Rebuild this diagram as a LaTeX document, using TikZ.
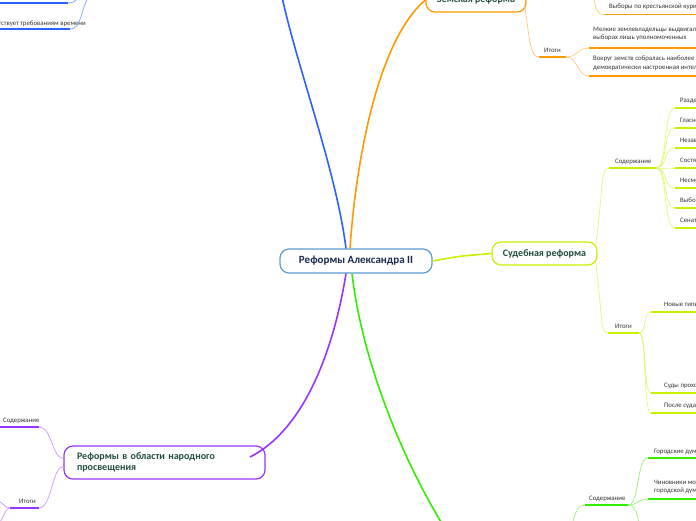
\documentclass[tikz,border=0pt]{standalone}
\usepackage{fontspec}
\setmainfont{Carlito}
\definecolor{rootblue}{HTML}{5B9BD5}
\definecolor{navytxt}{HTML}{1B2A4E}
\definecolor{topictxt}{HTML}{1F4E3D}
\definecolor{labeltxt}{HTML}{333333}
\definecolor{brblue}{HTML}{2962FF}
\definecolor{brorange}{HTML}{FF9A00}
\definecolor{lorange}{HTML}{FFCB7A}
\definecolor{brlime}{HTML}{CCEE00}
\definecolor{llime}{HTML}{E2F77A}
\definecolor{brgreen}{HTML}{33EE00}
\definecolor{lgreen}{HTML}{9CF07A}
\definecolor{brpurple}{HTML}{9933FF}
\definecolor{lpurple}{HTML}{CC99FF}
\begin{document}
\begin{tikzpicture}[x=1pt,y=-1pt,
  topic/.style={draw,fill=white,rounded corners=9pt,line width=1.2pt,inner sep=0pt,
    font=\bfseries\fontsize{10}{12}\selectfont,text=topictxt},
  lbl/.style={anchor=base west,inner sep=0pt,font=\fontsize{6.8}{8.4}\selectfont,text=labeltxt},
  mainline/.style={line width=1.6pt},
  subline/.style={line width=0.7pt},
  uline/.style={line width=1.8pt}]
\clip (0,0) rectangle (696,520);

% центральная тема
\node[topic,draw=rootblue,text=navytxt,minimum width=152pt,minimum height=24pt,
  font=\bfseries\fontsize{11}{13}\selectfont] (root) at (356,261) {Реформы Александра II};

% главные темы
\node[topic,draw=brorange,minimum width=100pt,minimum height=24pt] (zem) at (476,0) {Земская реформа};
\node[topic,draw=brlime,minimum width=105pt,minimum height=23pt] (sud) at (544.5,253.5) {Судебная реформа};
\node[topic,draw=brpurple,text width=175pt,inner xsep=13pt,inner ysep=5pt,minimum height=33pt,
  align=left,font=\bfseries\fontsize{10}{11}\selectfont] (edu) at (164.5,462.5)
  {Реформы в области народного\\просвещения};

% ветви от центра
\coordinate (bluetop) at (282,-3);
\coordinate (greenbot) at (446,530);
\coordinate (eduin) at (250,457);
\draw[mainline,brblue] (root.north) ++(-10,0) coordinate (rb)
  (rb) .. controls (336,170) and (298,70) .. (bluetop);
\draw[mainline,brorange] (root.north) ++(-6,0) coordinate (ro)
  (ro) .. controls (356,160) and (378,40) .. (zem.west);
\draw[mainline,brlime] (root.east) .. controls (460,256) .. (sud.west);
\draw[mainline,brgreen] (root.south) ++(-4,0) coordinate (rg)
  (rg) .. controls (362,360) and (402,460) .. (greenbot);
\draw[mainline,brpurple] (root.south) ++(-10,0) coordinate (rp)
  (rp) .. controls (332,360) and (300,432) .. (eduin);

% синяя ветвь (слева вверху)
\coordinate (bpar) at (90,-6);
\coordinate (bu1a) at (-2,3);   \coordinate (bu1b) at (68,3);
\coordinate (bu2a) at (-2,29);  \coordinate (bu2b) at (70,29);
\node[lbl,anchor=base east] (btxt) at (86,25) {соответствует требованиям времени};
\draw[uline,brblue] (bu1a) -- (bu1b);
\draw[uline,brblue] (bu2a) -- (bu2b);
\draw[subline,brblue!60] (bpar) .. controls (78,-6) and (78,3) .. (bu1b);
\draw[subline,brblue!60] (bpar) .. controls (80,10) and (82,29) .. (bu2b);

% Земская реформа
\coordinate (zpar) at (593,-6);
\coordinate (zk1a) at (605,14.5); \coordinate (zk1b) at (700,14.5);
\node[lbl] (zk1) at (609,8) {Выборы по крестьянской курии};
\draw[uline,brorange] (zk1a) -- (zk1b);
\draw[subline,lorange] (zpar) .. controls (596,12) and (598,14.5) .. (zk1a);

\coordinate (zia) at (539,57); \coordinate (zib) at (566,57);
\node[lbl] (zitogi) at (544,52) {Итоги};
\draw[uline,brorange] (zia) -- (zib);
\draw[subline,lorange] (zem.east) ++(-2,4) coordinate (ze)
  (ze) .. controls (530,45) and (531,57) .. (zia);
\coordinate (zi1a) at (589,48); \coordinate (zi1b) at (700,48);
\coordinate (zi2a) at (589,76); \coordinate (zi2b) at (700,76);
\node[lbl,align=left,anchor=north west] (zi1) at (593,27) {Мелкие землевладельцы выдвигали на\\выборах лишь уполномоченных};
\node[lbl,align=left,anchor=north west] (zi2) at (593,56) {Вокруг земств собралась наиболее\\демократически настроенная интеллигенция};
\draw[uline,brorange] (zi1a) -- (zi1b);
\draw[uline,brorange] (zi2a) -- (zi2b);
\draw[subline,lorange] (zib) .. controls (578,57) and (577,48) .. (zi1a);
\draw[subline,lorange] (zib) .. controls (578,57) and (577,76) .. (zi2a);

% Судебная реформа: содержание
\coordinate (ssa) at (609,168); \coordinate (ssb) at (656,168);
\node[lbl] (ssod) at (615,163) {Содержание};
\draw[uline,brlime] (ssa) -- (ssb);
\draw[subline,llime] (sud.east) ++(-2,-8) coordinate (se1)
  (se1) .. controls (603,195) and (600,168) .. (ssa);
\foreach \y/\t [count=\i] in {108/Разделение,128/Гласность,148/Независимость,168/Состязательность,
    188/Несменяемость,208/Выборность,228/Сенат}{
  \coordinate (sc\i a) at (675,\y);
  \coordinate (sc\i b) at (700,\y);
  \node[lbl] (sc\i) at (680,\y-6) {\t};
  \draw[uline,brlime] (sc\i a) -- (sc\i b);
  \draw[subline,llime] (ssb) .. controls (668,168) and (663,\y) .. (sc\i a);
}

% Судебная реформа: итоги
\coordinate (sia) at (608,333); \coordinate (sib) at (639,333);
\node[lbl] (sitogi) at (615,328) {Итоги};
\draw[uline,brlime] (sia) -- (sib);
\draw[subline,llime] (sud.east) ++(-2,8) coordinate (se2)
  (se2) .. controls (603,320) and (600,333) .. (sia);
\foreach \y/\t [count=\i] in {312/Новые типы судов,393/Суды проходили,413/После суда}{
  \coordinate (si\i a) at (651,\y);
  \coordinate (si\i b) at (700,\y);
  \node[lbl] (si\i) at (664,\y-6) {\t};
  \draw[uline,brlime] (si\i a) -- (si\i b);
  \draw[subline,llime] (sib) .. controls (647,333) and (643,\y) .. (si\i a);
}

% зелёная ветвь: содержание
\coordinate (gpar) at (571,528);
\coordinate (gsa) at (585,505); \coordinate (gsb) at (628,505);
\node[lbl] (gsod) at (589,500) {Содержание};
\draw[uline,brgreen] (gsa) -- (gsb);
\draw[subline,lgreen] (gpar) .. controls (576,510) and (578,505) .. (gsa);
\coordinate (gc1a) at (648,458); \coordinate (gc1b) at (700,458);
\coordinate (gc2a) at (648,499); \coordinate (gc2b) at (700,499);
\coordinate (gc3) at (640,528);
\node[lbl] (gc1) at (654,453) {Городские думы};
\node[lbl,align=left,anchor=north west] (gc2) at (654,480) {Чиновники могли\\городской думы};
\draw[uline,brgreen] (gc1a) -- (gc1b);
\draw[uline,brgreen] (gc2a) -- (gc2b);
\draw[subline,lgreen] (gsb) .. controls (640,505) and (636,458) .. (gc1a);
\draw[subline,lgreen] (gsb) .. controls (638,505) and (638,499) .. (gc2a);
\draw[subline,lgreen] (gsb) .. controls (636,505) and (637,515) .. (gc3);

% народное просвещение
\coordinate (esa) at (-2,427); \coordinate (esb) at (39,427);
\node[lbl] (esod) at (3,422) {Содержание};
\draw[uline,brpurple] (esa) -- (esb);
\draw[subline,lpurple] (edu.west) ++(0,-4) coordinate (ew1)
  (ew1) .. controls (52,458) and (52,427) .. (esb);
\coordinate (eia) at (10,508); \coordinate (eib) at (39,508);
\node[lbl] (eitogi) at (19,503) {Итоги};
\draw[uline,brpurple] (eia) -- (eib);
\draw[subline,lpurple] (edu.west) ++(0,4) coordinate (ew2)
  (ew2) .. controls (52,466) and (52,508) .. (eib);
\coordinate (ei1) at (-4,501); \coordinate (ei2) at (-4,524);
\draw[subline,lpurple] (eia) .. controls (4,508) and (3,501) .. (ei1);
\draw[subline,lpurple] (eia) .. controls (4,508) and (3,524) .. (ei2);
\end{tikzpicture}
\end{document}
